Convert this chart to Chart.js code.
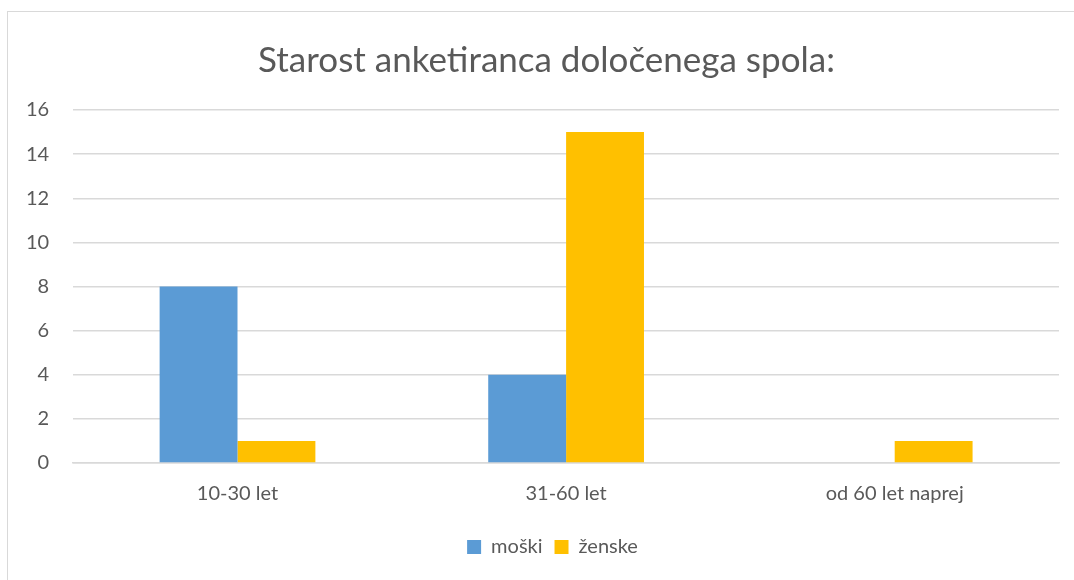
<!DOCTYPE html>
<html>
  <head>
    <title>Starost anketiranca</title>
    <script src="https://cdn.jsdelivr.net/npm/chart.js"></script>
    <style>
      body { margin: 0; background: #fff; }
      #frame { position: absolute; left: 7px; top: 11px; width: 1080px; height: 600px; border: 1.5px solid #d9d9d9; }
      #wrap { position: absolute; left: 0; top: 0; width: 1074px; height: 580px; }
    </style>
  </head>
  <body>
    <div id="frame"></div>
    <div id="wrap"><canvas id="bar-chart"></canvas></div>
    <script>
      // Values
      const categories = ["10-30 let", "31-60 let", "od 60 let naprej"];
      const moski = [8, 4, 0];
      const zenske = [1, 15, 1];
      const yTicks = [0, 2, 4, 6, 8, 10, 12, 14, 16];

      const textColor = "#595959";
      const gridColor = "#d9d9d9";
      const font = "Lato, 'Open Sans', sans-serif";

      // Excel centres title and legend a bit right of the canvas middle
      const nudge = {
        id: "nudge",
        afterLayout(chart) {
          if (chart.titleBlock) { chart.titleBlock.left += 16; chart.titleBlock.right += 16; }
          if (chart.legend) { chart.legend.left += 22; chart.legend.right += 22; }
        }
      };

      const ctx = document.getElementById("bar-chart").getContext("2d");
      new Chart(ctx, {
        type: "bar",
        data: {
          labels: categories,
          datasets: [
            { label: "moški", data: moski, backgroundColor: "#5B9BD5" },
            { label: "ženske", data: zenske, backgroundColor: "#FFC000" }
          ]
        },
        plugins: [nudge],
        options: {
          responsive: true,
          maintainAspectRatio: false,
          animation: false,
          categoryPercentage: 0.474,
          barPercentage: 1,
          layout: { padding: { left: 2, right: 15, top: 40, bottom: 13 } },
          plugins: {
            title: {
              display: true,
              text: "Starost anketiranca določenega spola:",
              color: textColor,
              font: { family: font, size: 35, weight: "normal" },
              padding: { top: 0, bottom: 28 }
            },
            legend: {
              position: "bottom",
              labels: {
                color: textColor,
                font: { family: font, size: 20 },
                boxWidth: 14,
                boxHeight: 14,
                padding: 12
              }
            },
            tooltip: { enabled: false }
          },
          scales: {
            x: {
              grid: { display: false, drawTicks: false },
              border: { color: gridColor, width: 1.5 },
              ticks: { color: textColor, font: { family: font, size: 20 }, padding: 19 }
            },
            y: {
              min: 0,
              max: 16,
              afterBuildTicks: axis => { axis.ticks = yTicks.map(v => ({ value: v })); },
              grid: { color: gridColor, lineWidth: 1.5, drawTicks: false },
              border: { display: false },
              ticks: { color: textColor, font: { family: font, size: 20 }, padding: 24 }
            }
          }
        }
      });
    </script>
  </body>
</html>
